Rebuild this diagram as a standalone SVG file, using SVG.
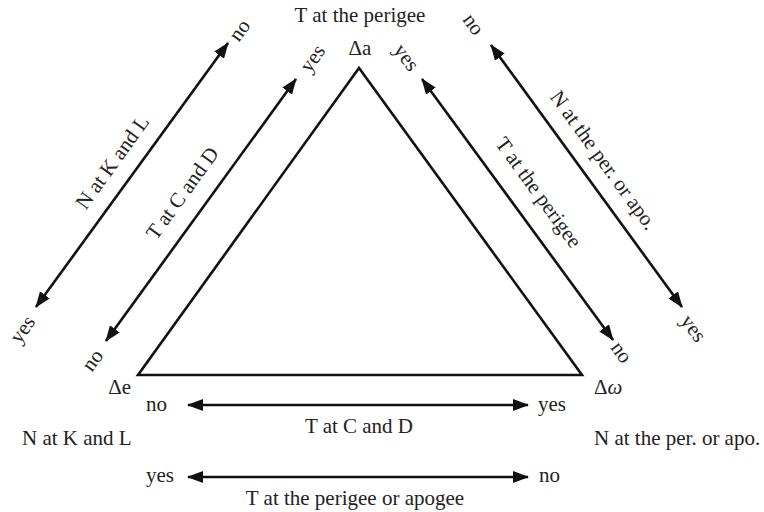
<svg xmlns="http://www.w3.org/2000/svg" width="764" height="512" viewBox="0 0 764 512">
<style>
text{font-family:'Liberation Serif','Times New Roman',Tinos,'DejaVu Serif',serif;font-size:21px;fill:#222}
.r{text-anchor:middle}
.arr{stroke:#111;stroke-width:2.6;fill:none;marker-start:url(#ah);marker-end:url(#ah)}
</style>
<defs>
<marker id="ah" viewBox="0 0 16 12" refX="15" refY="6" markerWidth="16" markerHeight="12" markerUnits="userSpaceOnUse" orient="auto-start-reverse">
<path d="M0,0 L16,6 L0,12 z" fill="#111"/>
</marker>
</defs>
<rect width="764" height="512" fill="#fff"/>
<g id="triangle">
<polygon points="359,68 138,375 582,375" fill="none" stroke="#111" stroke-width="2.6" stroke-linejoin="miter"/>
</g>
<g id="node-a"><text x="360" y="55" class="r">Δa</text></g>
<g id="node-e"><text x="131" y="394" text-anchor="end">Δe</text></g>
<g id="node-w"><text x="594" y="394">Δ<tspan font-style="italic">ω</tspan></text></g>
<g id="connectors">
<line class="arr" x1="36" y1="307" x2="228" y2="43"/>
<line class="arr" x1="106" y1="341" x2="296" y2="79"/>
<line class="arr" x1="422" y1="79" x2="613" y2="340"/>
<line class="arr" x1="491" y1="45" x2="682" y2="307"/>
<line class="arr" x1="188" y1="405" x2="528" y2="405"/>
<line class="arr" x1="188" y1="477" x2="528" y2="477"/>
</g>
<g id="labels">
<text x="360" y="22" class="r">T at the perigee</text>
<text class="r" x="112" y="162" dy=".35em" transform="rotate(-54 112 162)">N at K and L</text>
<text class="r" x="182" y="193" dy=".35em" transform="rotate(-54 182 193)">T at C and D</text>
<text class="r" x="539" y="192" dy=".35em" transform="rotate(54 539 192)">T at the perigee</text>
<text class="r" x="604" y="160" dy=".35em" transform="rotate(54 604 160)">N at the per. or apo.</text>
<text class="r" x="239" y="30" dy=".35em" transform="rotate(-54 239 30)">no</text>
<text class="r" x="312" y="58" dy=".35em" transform="rotate(-54 312 58)">yes</text>
<text class="r" x="407" y="57" dy=".35em" transform="rotate(54 407 57)">yes</text>
<text class="r" x="474" y="24" dy=".35em" transform="rotate(54 474 24)">no</text>
<text class="r" x="22" y="329" dy=".35em" transform="rotate(-54 22 329)">yes</text>
<text class="r" x="92" y="360" dy=".35em" transform="rotate(-54 92 360)">no</text>
<text class="r" x="622" y="352" dy=".35em" transform="rotate(54 622 352)">no</text>
<text class="r" x="694" y="328" dy=".35em" transform="rotate(54 694 328)">yes</text>
<text x="146" y="411">no</text>
<text x="538" y="411">yes</text>
<text x="359" y="433" class="r">T at C and D</text>
<text x="22" y="445">N at K and L</text>
<text x="594" y="445">N at the per. or apo.</text>
<text x="146" y="482">yes</text>
<text x="539" y="482">no</text>
<text x="355" y="505" class="r">T at the perigee or apogee</text>
</g>
</svg>
